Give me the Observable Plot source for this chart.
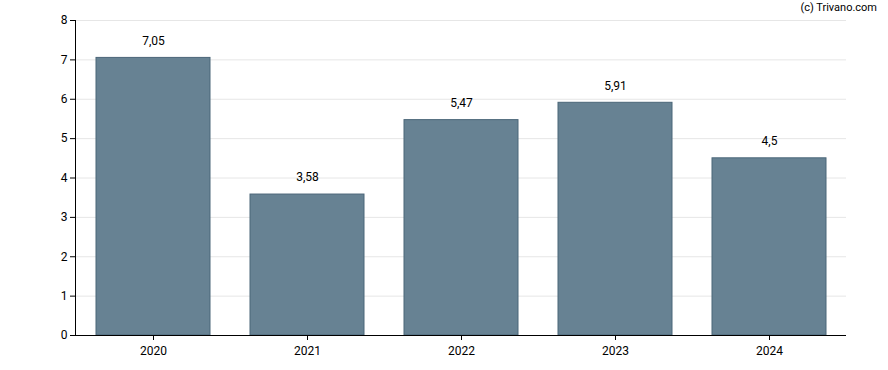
<!DOCTYPE html>
<html>
<head>
<meta charset="utf-8">
<script src="https://cdn.jsdelivr.net/npm/d3@7"></script>
<script src="https://cdn.jsdelivr.net/npm/@observablehq/plot@0.6"></script>
<style>
  body { margin: 0; background: #fff; }
  #wrap { position: relative; width: 888px; height: 370px; font-family: Roboto, sans-serif; }
  #credit { position: absolute; right: 11px; top: 1px; font-size: 11px; color: #000; }
</style>
</head>
<body>
<div id="wrap"><div id="credit">(c) Trivano.com</div></div>
<script>
const years = ["2020", "2021", "2022", "2023", "2024"];
const values = [7.05, 3.58, 5.47, 5.91, 4.5];
const yTicks = [0, 1, 2, 3, 4, 5, 6, 7, 8];

const data = years.map((y, i) => ({year: y, value: values[i]}));
const fmt = v => String(v).replace(".", ",");

const chart = Plot.plot({
  width: 888,
  height: 370,
  marginLeft: 75,
  marginRight: 42,
  marginTop: 20,
  marginBottom: 35,
  style: {fontFamily: "Roboto, sans-serif", fontSize: "12px", color: "#000", background: "#fff"},
  x: {domain: years, paddingInner: 0.26, paddingOuter: 0.13, label: null, tickSize: 5, tickPadding: 6},
  y: {domain: [0, 8], ticks: yTicks, label: null, tickSize: 5, tickPadding: 3},
  marks: [
    Plot.gridY(yTicks.filter(t => t > 0), {stroke: "#e6e6e6", strokeOpacity: 1}),
    Plot.barY(data, {x: "year", y: "value", fill: "#678293", stroke: "#4b6679", strokeWidth: 1}),
    Plot.text(data, {x: "year", y: "value", text: d => fmt(d.value), dy: -17, fill: "#000", fontSize: 12}),
    Plot.axisY({ticks: yTicks, tickSize: 5, tickPadding: 3}),
    Plot.axisX({tickSize: 5, tickPadding: 6}),
    Plot.ruleY([0], {stroke: "#000"}),
    Plot.frame({anchor: "left", stroke: "#000"})
  ]
});
document.getElementById("wrap").appendChild(chart);
</script>
</body>
</html>
